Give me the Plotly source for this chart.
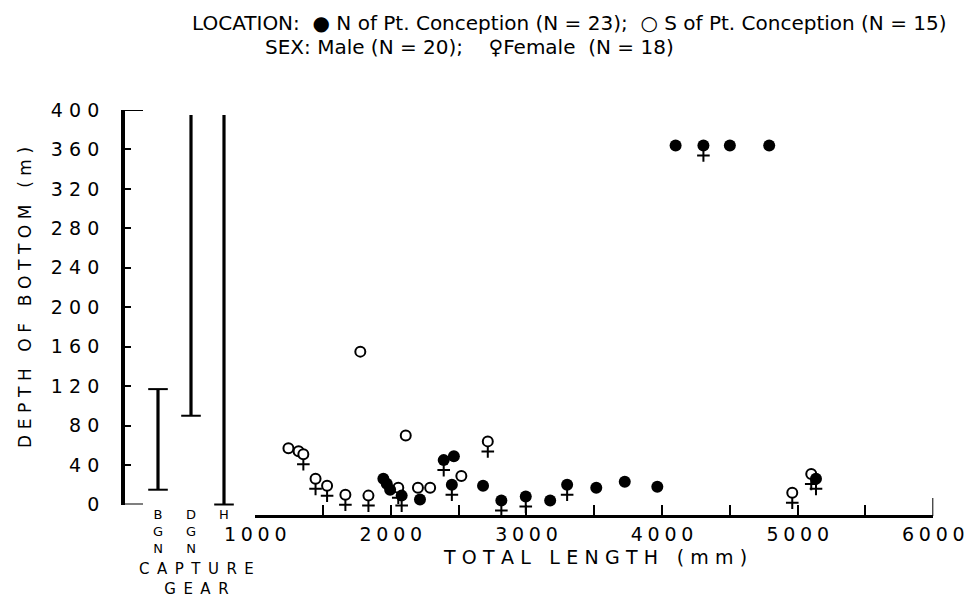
import plotly.graph_objects as go

# ---------------- data ----------------
# North of Pt. Conception (filled circles)
north_length = [1945, 1970, 1995, 2080, 2215, 2390, 2465, 2450, 2680, 2815, 2995,
                3175, 3300, 3515, 3725, 3965, 5135, 4100, 4305, 4500, 4790]
north_depth = [26, 21, 15, 9, 5, 45, 49, 20, 19, 4, 8,
               4, 20, 17, 23, 18, 26, 364, 364, 364, 364]
north_female = [0, 0, 0, 1, 0, 1, 0, 1, 0, 1, 1,
                0, 1, 0, 0, 0, 1, 0, 1, 0, 0]

# South of Pt. Conception (open circles)
south_length = [1245, 1320, 1355, 1445, 1530, 1665, 1835, 1775, 2055, 2110, 2200,
                2290, 2520, 2715, 4960, 5100]
south_depth = [57, 54, 51, 26, 19, 10, 9, 155, 17, 70, 17,
               17, 29, 64, 12, 31]
south_female = [0, 0, 1, 1, 1, 1, 1, 0, 1, 0, 0,
                0, 0, 1, 1, 1]

# Capture gear depth ranges
gear_names = ["BGN", "DGN", "H"]
gear_min = [15, 90, 0]
gear_max = [117, 395, 395]
gear_top_cap = [True, False, False]

y_tick_values = [0, 40, 80, 120, 160, 200, 240, 280, 320, 360, 400]
x_tick_values = [1000, 2000, 3000, 4000, 5000, 6000]

# ---------------- geometry helpers ----------------
W, H = 974, 599
ML, MR, MT, MB = 110, 29, 100, 83
PW, PH = W - ML - MR, H - MT - MB
Y0_PX, PX_PER_M = 504.5, 0.98625
Y400_PX = Y0_PX - 400 * PX_PER_M


def px_x(px):
    return (px - ML) / PW


def px_y(py):
    return (H - MB - py) / PH


def spaced(s, sep="\u2004"):
    return sep.join(s)


y_lo = (Y0_PX - (H - MB)) / PX_PER_M
y_hi = (Y0_PX - MT) / PX_PER_M
cross_offset = 10 / PX_PER_M

FONT = "DejaVu Sans"

fig = go.Figure()

# capture gear bars
for g, lo, hi in zip(gear_names, gear_min, gear_max):
    fig.add_trace(go.Scatter(x=[g, g], y=[lo, hi], mode="lines", xaxis="x2", yaxis="y2",
                             line=dict(color="black", width=3.2), cliponaxis=False,
                             showlegend=False, hoverinfo="skip"))
cap_x, cap_y = [], []
for g, lo, hi, tc in zip(gear_names, gear_min, gear_max, gear_top_cap):
    cap_x.append(g); cap_y.append(lo)
    if tc:
        cap_x.append(g); cap_y.append(hi)
fig.add_trace(go.Scatter(x=cap_x, y=cap_y, mode="markers", xaxis="x2", yaxis="y2",
                         marker=dict(symbol="line-ew", size=14, line=dict(color="black", width=2)),
                         cliponaxis=False, showlegend=False, hoverinfo="skip"))

# female crosses
fem_x = [x for x, f in zip(north_length, north_female) if f] + \
        [x for x, f in zip(south_length, south_female) if f]
fem_y = [y - cross_offset for y, f in zip(north_depth, north_female) if f] + \
        [y - cross_offset for y, f in zip(south_depth, south_female) if f]
fig.add_trace(go.Scatter(x=fem_x, y=fem_y, mode="markers",
                         marker=dict(symbol="cross-thin", size=9, line=dict(color="black", width=2)),
                         cliponaxis=False, showlegend=False, hoverinfo="skip"))

# open circles (south)
fig.add_trace(go.Scatter(x=south_length, y=south_depth, mode="markers",
                         marker=dict(symbol="circle", size=10, color="white",
                                     line=dict(color="black", width=2)),
                         cliponaxis=False, showlegend=False))
# filled circles (north)
fig.add_trace(go.Scatter(x=north_length, y=north_depth, mode="markers",
                         marker=dict(symbol="circle", size=12, color="black",
                                     line=dict(color="black", width=0)),
                         cliponaxis=False, showlegend=False))

yax_x = px_x(123)
# bracket ends of the depth axis
for yy in (0, 400):
    fig.add_shape(type="line", xref="paper", yref="y2", x0=px_x(122), x1=px_x(143), y0=yy, y1=yy,
                  line=dict(color="black", width=2))
# taller end tick at 6000
fig.add_shape(type="line", xref="x", yref="paper", x0=6000, x1=6000, y0=0, y1=px_y(498),
              line=dict(color="black", width=2))

annotations = []
legend_font = dict(family=FONT, size=20, color="black")
annotations.append(dict(text="LOCATION:  \u25CF N of Pt. Conception (N = 23);  \u25CB S of Pt. Conception (N = 15)",
                        xref="paper", yref="paper", x=px_x(190), y=px_y(23), xanchor="left",
                        yanchor="middle", showarrow=False, font=legend_font))
annotations.append(dict(text="SEX: Male (N = 20);    \u2640Female  (N = 18)",
                        xref="paper", yref="paper", x=px_x(263), y=px_y(47), xanchor="left",
                        yanchor="middle", showarrow=False, font=legend_font))
annotations.append(dict(text=spaced("DEPTH OF BOTTOM (m)"), xref="paper", yref="paper",
                        x=px_x(25), y=px_y(298), textangle=-90, showarrow=False,
                        xanchor="center", yanchor="middle",
                        font=dict(family=FONT, size=17, color="black")))
annotations.append(dict(text=spaced("TOTAL LENGTH (mm)"), xref="paper", yref="paper",
                        x=px_x(595), y=px_y(557), showarrow=False,
                        xanchor="center", yanchor="middle",
                        font=dict(family=FONT, size=19, color="black")))
annotations.append(dict(text=spaced("CAPTURE", "\u2002") + "<br>" + spaced("GEAR", "\u2002"),
                        xref="paper", yref="paper",
                        x=px_x(196), y=px_y(579), showarrow=False,
                        xanchor="center", yanchor="middle", align="center",
                        font=dict(family=FONT, size=15, color="black")))
# gear names written vertically, one letter per line
for g in gear_names:
    annotations.append(dict(text="<br>".join(g), xref="x2", yref="paper", x=g, y=px_y(505),
                            showarrow=False, xanchor="center", yanchor="top",
                            font=dict(family=FONT, size=13, color="black")))

tick_font = dict(family=FONT, size=19, color="black")
fig.update_layout(
    width=W, height=H, autosize=False,
    margin=dict(l=ML, r=MR, t=MT, b=MB, autoexpand=False),
    paper_bgcolor="white", plot_bgcolor="rgba(0,0,0,0)",
    showlegend=False,
    xaxis=dict(domain=[px_x(255.2), px_x(933.3)], range=[1000, 6000], anchor="free", position=0,
               automargin=False,
               showline=True, linewidth=3, linecolor="black", showgrid=False, zeroline=False,
               ticks="inside", ticklen=10, tickwidth=1.5, tickcolor="black",
               tickvals=x_tick_values, ticktext=[spaced(str(v), "\u2005") for v in x_tick_values],
               tickfont=tick_font,
               minor=dict(dtick=500, tick0=1000, ticks="inside", ticklen=10, tickwidth=1.5,
                          tickcolor="black", showgrid=False)),
    xaxis2=dict(domain=[px_x(141.5), px_x(240.5)], type="category", range=[-0.5, 2.5],
                categoryorder="array", categoryarray=gear_names, anchor="y2",
                visible=False, showgrid=False, automargin=False),
    yaxis=dict(domain=[0, 1], range=[y_lo, y_hi], visible=False, showgrid=False, automargin=False),
    yaxis2=dict(domain=[px_y(Y0_PX), px_y(Y400_PX)], range=[0, 400], anchor="free", position=yax_x,
                automargin=False,
                showline=True, linewidth=3.5, linecolor="black",
                showgrid=False, zeroline=False,
                ticks="inside", ticklen=6, tickwidth=1.5, tickcolor="black",
                tickvals=y_tick_values, ticktext=[spaced(str(v)) for v in y_tick_values],
                ticklabelstandoff=18, tickfont=tick_font),
    annotations=annotations,
)

fig.write_html(
    "out.html",
    config={"responsive": False, "displayModeBar": False},
    post_script="document.body.style.margin='0';document.body.style.overflow='hidden';"
                "Plotly.Plots.resize(document.getElementById('{plot_id}'));",
)
